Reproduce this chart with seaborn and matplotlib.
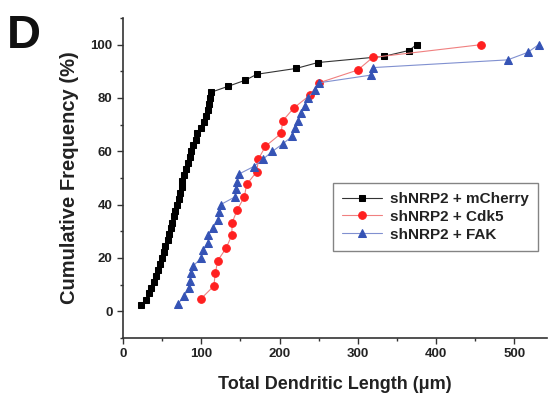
import matplotlib
matplotlib.use("Agg")
import matplotlib.pyplot as plt
from matplotlib.ticker import MultipleLocator
import seaborn as sns
import pandas as pd

# shNRP2 + mCherry
mcherry_x = [23, 29, 33, 36, 39, 42, 45, 47, 50, 52, 54, 57, 59, 61, 63, 65, 66, 69,
             71, 73, 75, 76, 78, 80, 83, 85, 87, 90, 93, 95, 100, 103, 106, 108, 110,
             111, 113, 134.5, 156.5, 171, 221.5, 249, 333, 365, 375]
mcherry_y = [2.2, 4.4, 6.7, 8.9, 11.1, 13.3, 15.6, 17.8, 20.0, 22.2, 24.4, 26.7, 28.9,
             31.1, 33.3, 35.6, 37.8, 40.0, 42.2, 44.4, 46.7, 48.9, 51.1, 53.3, 55.6,
             57.8, 60.0, 62.2, 64.4, 66.7, 68.9, 71.1, 73.3, 75.6, 77.8, 80.0, 82.2,
             84.4, 86.7, 88.9, 91.1, 93.3, 95.6, 97.8, 100.0]
# shNRP2 + Cdk5
cdk5_x = [100, 116, 118, 121, 132, 139, 139.5, 146, 155, 158, 171, 173, 182, 202, 204,
          218, 238.5, 250.5, 300, 319, 457.5]
cdk5_y = [4.8, 9.5, 14.3, 19.0, 23.8, 28.6, 33.3, 38.1, 42.9, 47.6, 52.4, 57.1, 61.9,
          66.7, 71.4, 76.2, 81.0, 85.7, 90.5, 95.2, 100.0]
# shNRP2 + FAK
fak_x = [70.6, 78, 84, 85.5, 87, 90, 100, 102.5, 109, 109, 115, 121.6, 123, 124.6, 143,
         145, 146, 147.6, 167, 179, 191, 204.5, 216.5, 219.4, 224, 228, 232, 236, 245,
         250.5, 317, 319, 491.5, 517, 531]
fak_y = [2.9, 5.7, 8.6, 11.4, 14.3, 17.1, 20.0, 22.9, 25.7, 28.6, 31.4, 34.3, 37.1, 40.0,
         42.9, 45.7, 48.6, 51.4, 54.3, 57.1, 60.0, 62.9, 65.7, 68.6, 71.4, 74.3, 77.1,
         80.0, 82.9, 85.7, 88.6, 91.4, 94.3, 97.1, 100.0]

labels = ["shNRP2 + mCherry", "shNRP2 + Cdk5", "shNRP2 + FAK"]
xticks = [0, 100, 200, 300, 400, 500]
yticks = [0, 20, 40, 60, 80, 100]

sns.set_theme(style="white")
plt.rcParams["font.family"] = ["Liberation Sans", "DejaVu Sans"]
plt.rcParams["font.weight"] = "bold"

frames = []
for lab, xs, ys in zip(labels, [mcherry_x, cdk5_x, fak_x], [mcherry_y, cdk5_y, fak_y]):
    frames.append(pd.DataFrame({"length": xs, "freq": ys, "group": lab}))
df = pd.concat(frames, ignore_index=True)

fig = plt.figure(figsize=(5.5, 4), dpi=100)
ax = fig.add_axes([0.2236, 0.155, 0.7714, 0.80])

styles = {
    labels[0]: dict(line="#333333", face="black", marker="s", ms=4.8),
    labels[1]: dict(line="#f08080", face="#ff2020", marker="o", ms=5.5),
    labels[2]: dict(line="#8090d0", face="#3553b5", marker="^", ms=6.2),
}
for lab in labels:
    st = styles[lab]
    sub = df[df["group"] == lab]
    sns.lineplot(data=sub, x="length", y="freq", ax=ax, sort=False, estimator=None,
                 color=st["line"], linewidth=0.8, marker=st["marker"],
                 markersize=st["ms"], markerfacecolor=st["face"],
                 markeredgecolor=st["face"], label=lab)

ax.set_xlim(0, 542)
ax.set_ylim(-10, 110)
ax.set_xticks(xticks)
ax.set_yticks(yticks)
ax.xaxis.set_minor_locator(MultipleLocator(50))
ax.yaxis.set_minor_locator(MultipleLocator(10))
ax.tick_params(which="major", direction="out", length=4, width=1, colors="#333333",
               labelsize=9.5, labelcolor="#222222", bottom=True, left=True)
ax.tick_params(which="minor", direction="out", length=2.5, width=1, colors="#333333",
               bottom=True, left=True)
for lbl in ax.get_xticklabels() + ax.get_yticklabels():
    lbl.set_fontweight("bold")

for s in ["top", "right"]:
    ax.spines[s].set_visible(False)
for s in ["left", "bottom"]:
    ax.spines[s].set_color("#333333")
    ax.spines[s].set_linewidth(1.2)

ax.set_xlabel("Total Dendritic Length (\u03bcm)", fontsize=13, fontweight="bold",
              color="#222222", labelpad=11)
ax.set_ylabel("Cumulative Frequency (%)", fontsize=14.5, fontweight="bold",
              color="#222222", labelpad=8)

leg = ax.legend(loc="upper left", bbox_to_anchor=(0.495, 0.485), fontsize=11,
                frameon=True, fancybox=False, borderpad=0.6, handlelength=2.6,
                labelspacing=0.25, borderaxespad=0, handletextpad=0.5)
leg.get_frame().set_edgecolor("#666666")
leg.get_frame().set_linewidth(1.0)
for t in leg.get_texts():
    t.set_fontweight("bold")
    t.set_color("#222222")

fig.text(0.012, 0.965, "D", fontsize=34, fontweight="bold", va="top", ha="left",
         color="#111111")

fig.savefig("out.png", dpi=100)
